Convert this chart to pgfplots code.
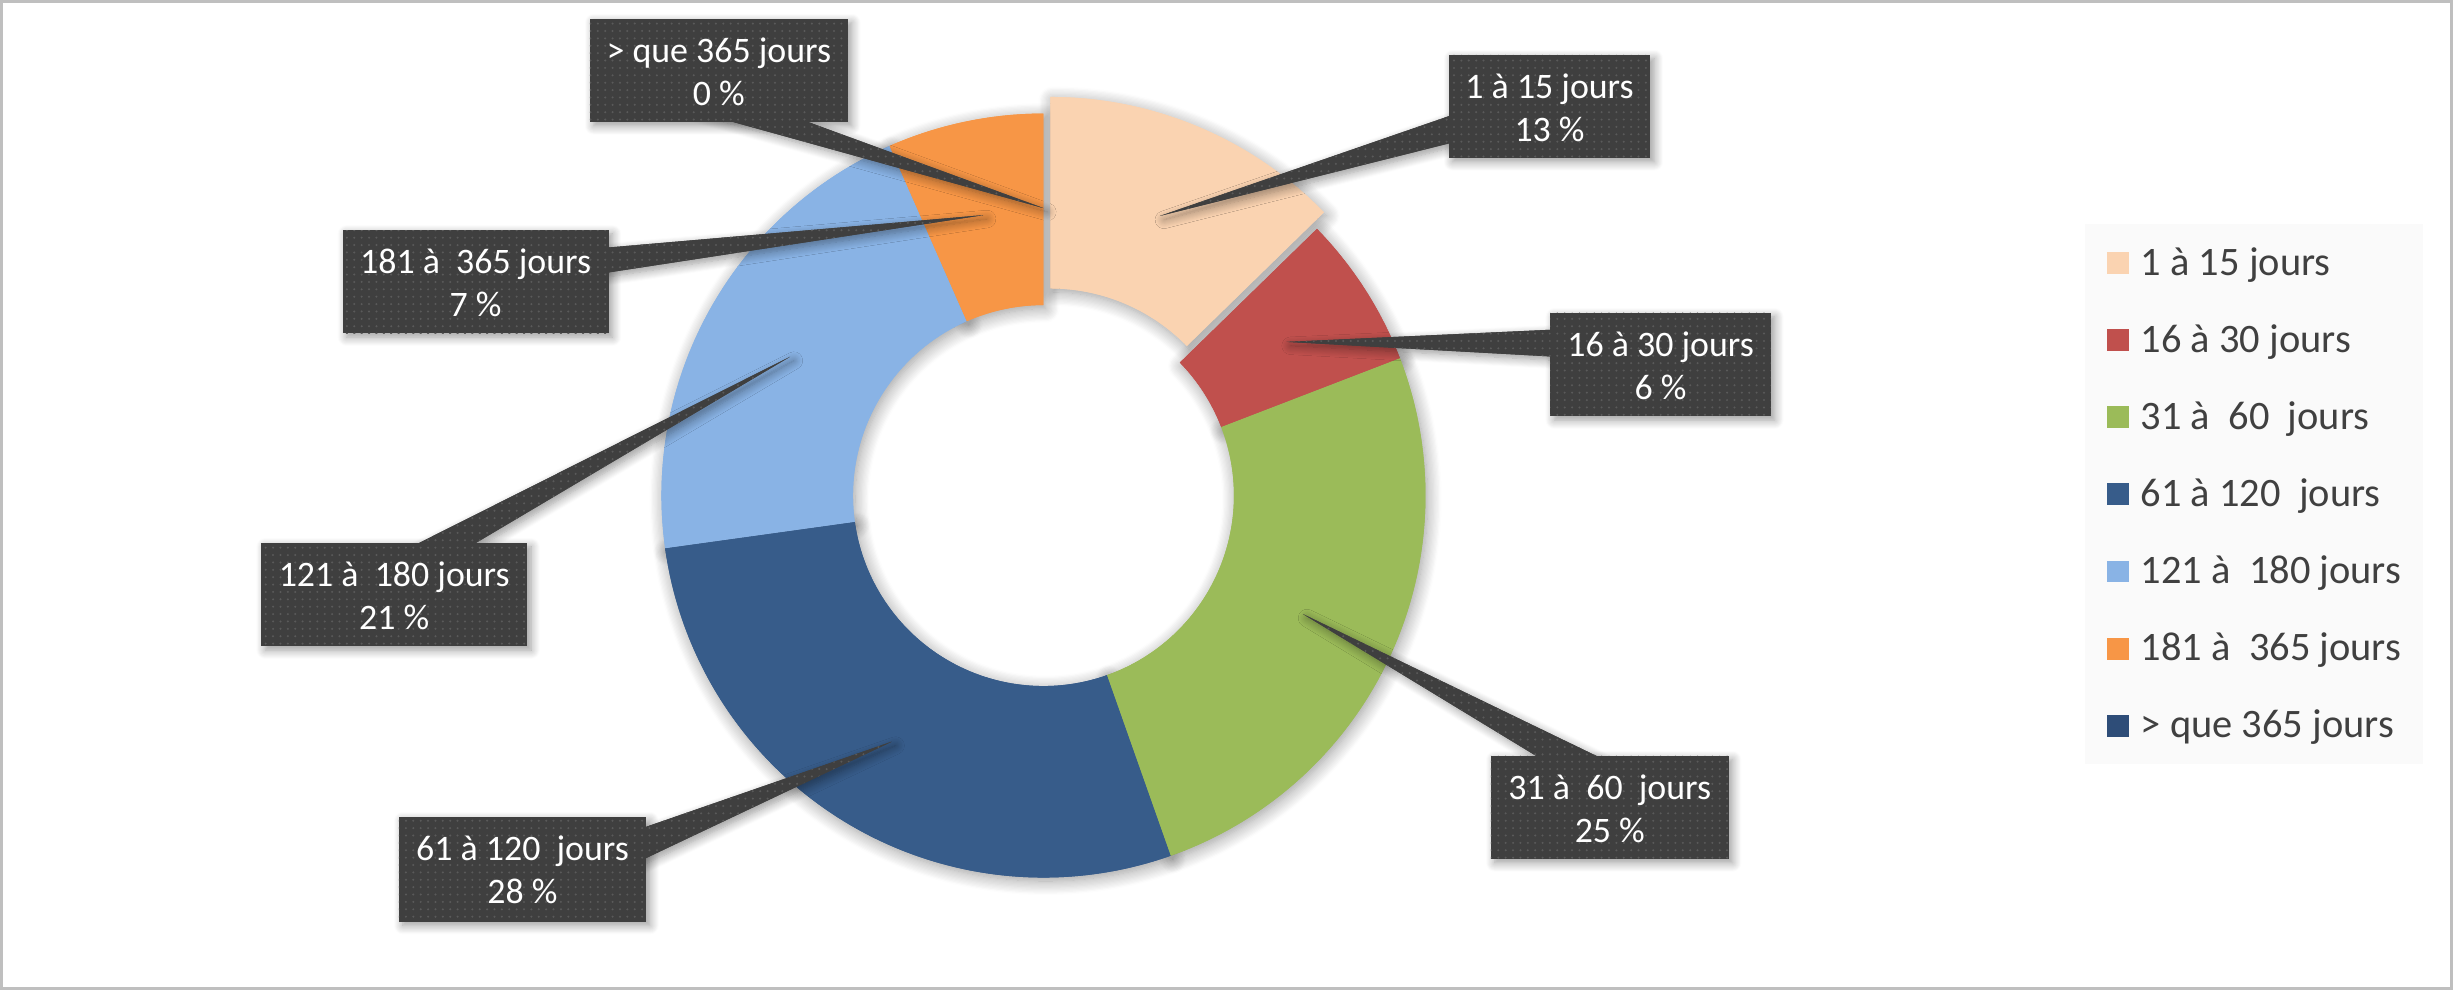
\documentclass[border=0pt]{standalone}
\usepackage{fontspec}
\setmainfont{Carlito}
\usepackage{pgfplots}
\pgfplotsset{compat=1.18}
\usepackage{pgfplotstable}
\usetikzlibrary{patterns.meta,shadows.blur}

\definecolor{cA}{HTML}{FAD3B1}
\definecolor{cB}{HTML}{C0504D}
\definecolor{cC}{HTML}{9BBB59}
\definecolor{cD}{HTML}{375C8A}
\definecolor{cE}{HTML}{89B3E5}
\definecolor{cF}{HTML}{F79646}
\definecolor{cG}{HTML}{2E4D78}
\definecolor{boxgray}{HTML}{3F3F3F}
\definecolor{dotgray}{HTML}{5A5A5A}
\definecolor{legtext}{HTML}{404040}
\definecolor{legbg}{HTML}{FAFAFA}
\definecolor{framegray}{HTML}{BFBFBF}

% share of each category (percent), in chart order, read off the ring
\pgfplotstableread{
row pct
0 12.7
1 6.45
2 25.45
3 28.2
4 20.6
5 6.6
6 0
}\donutdata

% cumulative start / end angles (clockwise from 12 o'clock)
\def\cum{0}
\pgfplotstableforeachcolumnelement{pct}\of\donutdata\as\p{%
  \pgfmathsetmacro\angS{90-3.6*\cum}%
  \pgfmathsetmacro\angE{90-3.6*(\cum+\p)}%
  \expandafter\xdef\csname sa\pgfplotstablerow\endcsname{\angS}%
  \expandafter\xdef\csname sb\pgfplotstablerow\endcsname{\angE}%
  \expandafter\xdef\csname pv\pgfplotstablerow\endcsname{\p}%
  \pgfmathsetmacro\cumn{\cum+\p}%
  \xdef\cum{\cumn}%
}

\def\Rout{3.820cm}
\def\Rin{1.905cm}
\newcommand\cfont{\fontsize{10.2}{12.2}\selectfont}
\newcommand\lfont{\fontsize{11.5}{13.8}\selectfont}

\tikzset{slicestyle/.style={}, cstyle/.style={}}

\newcommand\drawslice[3]{%
  \edef\tA{\csname sa#1\endcsname}\edef\tB{\csname sb#1\endcsname}%
  \fill[#2, slicestyle] ([shift={(\tA:\Rout)}]#3) arc[start angle=\tA, end angle=\tB, radius=\Rout]
     -- ([shift={(\tB:\Rin)}]#3) arc[start angle=\tB, end angle=\tA, radius=\Rin] -- cycle;%
}

% x1 y1 x2 y2 tipx tipy basex basey halfwidth
\newcommand\callbg[9]{%
  \pgfmathsetmacro\yA{#8-#9}\pgfmathsetmacro\yB{#8+#9}%
  \fill[boxgray, cstyle] (axis cs:#5,#6) -- (axis cs:#7,\yA) -- (axis cs:#7,\yB) -- cycle;
  \fill[boxgray, cstyle] (axis cs:#1,#2) rectangle (axis cs:#3,#4);%
}

% x1 y1 x2 row line1
\newcommand\calltext[5]{%
  \pgfmathsetmacro\cx{(#1+#3)/2}\pgfmathsetmacro\bA{#2+28}\pgfmathsetmacro\bB{#2+55.5}%
  \pgfmathtruncatemacro\pr{round(\csname pv#4\endcsname)}%
  \node[anchor=base, text=white, font=\cfont, inner sep=0pt] at (axis cs:\cx,\bA) {#5};
  \node[anchor=base, text=white, font=\cfont, inner sep=0pt] at (axis cs:\cx,\bB) {\pr~\%};%
}

\newcommand\legentry[3]{%
  \pgfmathsetmacro\ly{168+49.3*#1}\pgfmathsetmacro\lyA{\ly-7}\pgfmathsetmacro\lyB{\ly+7}\pgfmathsetmacro\lb{\ly+7.8}%
  \fill[#2] (axis cs:1347,\lyA) rectangle (axis cs:1361,\lyB);
  \node[anchor=base west, inner sep=0pt, text=legtext, font=\lfont] at (axis cs:1368,\lb) {#3};%
}

\newcommand\allcallouts{%
  \callbg{377}{12}{542}{78}{667}{133}{440}{60}{10}%
  \callbg{926}{35}{1055}{101}{741.5}{138}{985}{65.4}{11.5}%
  \callbg{991}{200}{1132}{266}{822.5}{218.5}{1040}{219.5}{11}%
  \callbg{953}{483}{1105}{549}{833}{392.5}{1030}{500}{12.3}%
  \callbg{255}{522}{413}{589}{570}{474}{370}{556}{12.7}%
  \callbg{167}{347}{337}{413}{505}{228}{240}{373}{12}%
  \callbg{219}{147}{389}{213}{628.5}{137.5}{340}{172}{9.6}%
}

\begin{document}
\begin{tikzpicture}
\begin{axis}[name=ax, width=24.53cm, height=9.905cm, scale only axis,
  xmin=0, xmax=1568, ymin=0, ymax=633, y dir=reverse, hide axis, clip=false]
\pgfplotsextra{%
  \draw[framegray, line width=0.9pt] (axis cs:1.2,1.2) rectangle (axis cs:1566.8,631.8);
  \coordinate (O) at (axis cs:667,316.7);
  \pgfmathsetmacro\midA{(\csname sa0\endcsname+\csname sb0\endcsname)/2}%
  \coordinate (Ox) at ([shift={(\midA:0.18cm)}]O);
  % slices: shadows first
  \tikzset{slicestyle/.style={blur shadow={shadow xshift=0.6pt, shadow yshift=-1pt, shadow blur radius=4pt, shadow blur steps=12}}}%
  \drawslice{0}{cA}{Ox}\drawslice{1}{cB}{O}\drawslice{2}{cC}{O}%
  \drawslice{3}{cD}{O}\drawslice{4}{cE}{O}\drawslice{5}{cF}{O}%
  \tikzset{slicestyle/.style={}}%
  \drawslice{0}{cA}{Ox}\drawslice{1}{cB}{O}\drawslice{2}{cC}{O}%
  \drawslice{3}{cD}{O}\drawslice{4}{cE}{O}\drawslice{5}{cF}{O}%
  % callouts
  \tikzset{cstyle/.style={blur shadow={shadow xshift=1.1pt, shadow yshift=-1.1pt, shadow blur radius=2.5pt, shadow blur steps=10}}}%
  \allcallouts
  \tikzset{cstyle/.style={postaction={pattern={Dots[distance=2.1pt,radius=0.32pt]}, pattern color=dotgray}}}%
  \allcallouts
  \calltext{377}{12}{542}{6}{> que 365 jours}%
  \calltext{926}{35}{1055}{0}{1 à 15 jours}%
  \calltext{991}{200}{1132}{1}{16 à 30 jours}%
  \calltext{953}{483}{1105}{2}{31 à\ \ 60\ \ jours}%
  \calltext{255}{522}{413}{3}{61 à 120\ \ jours}%
  \calltext{167}{347}{337}{4}{121 à\ \ 180 jours}%
  \calltext{219}{147}{389}{5}{181 à\ \ 365 jours}%
  % legend
  \fill[legbg] (axis cs:1333,143) rectangle (axis cs:1549,488);
  \legentry{0}{cA}{1 à 15 jours}%
  \legentry{1}{cB}{16 à 30 jours}%
  \legentry{2}{cC}{31 à\ \ 60\ \ jours}%
  \legentry{3}{cD}{61 à 120\ \ jours}%
  \legentry{4}{cE}{121 à\ \ 180 jours}%
  \legentry{5}{cF}{181 à\ \ 365 jours}%
  \legentry{6}{cG}{> que 365 jours}%
}
\end{axis}
\pgfresetboundingbox
\path (ax.south west) rectangle (ax.north east);
\end{tikzpicture}
\end{document}
